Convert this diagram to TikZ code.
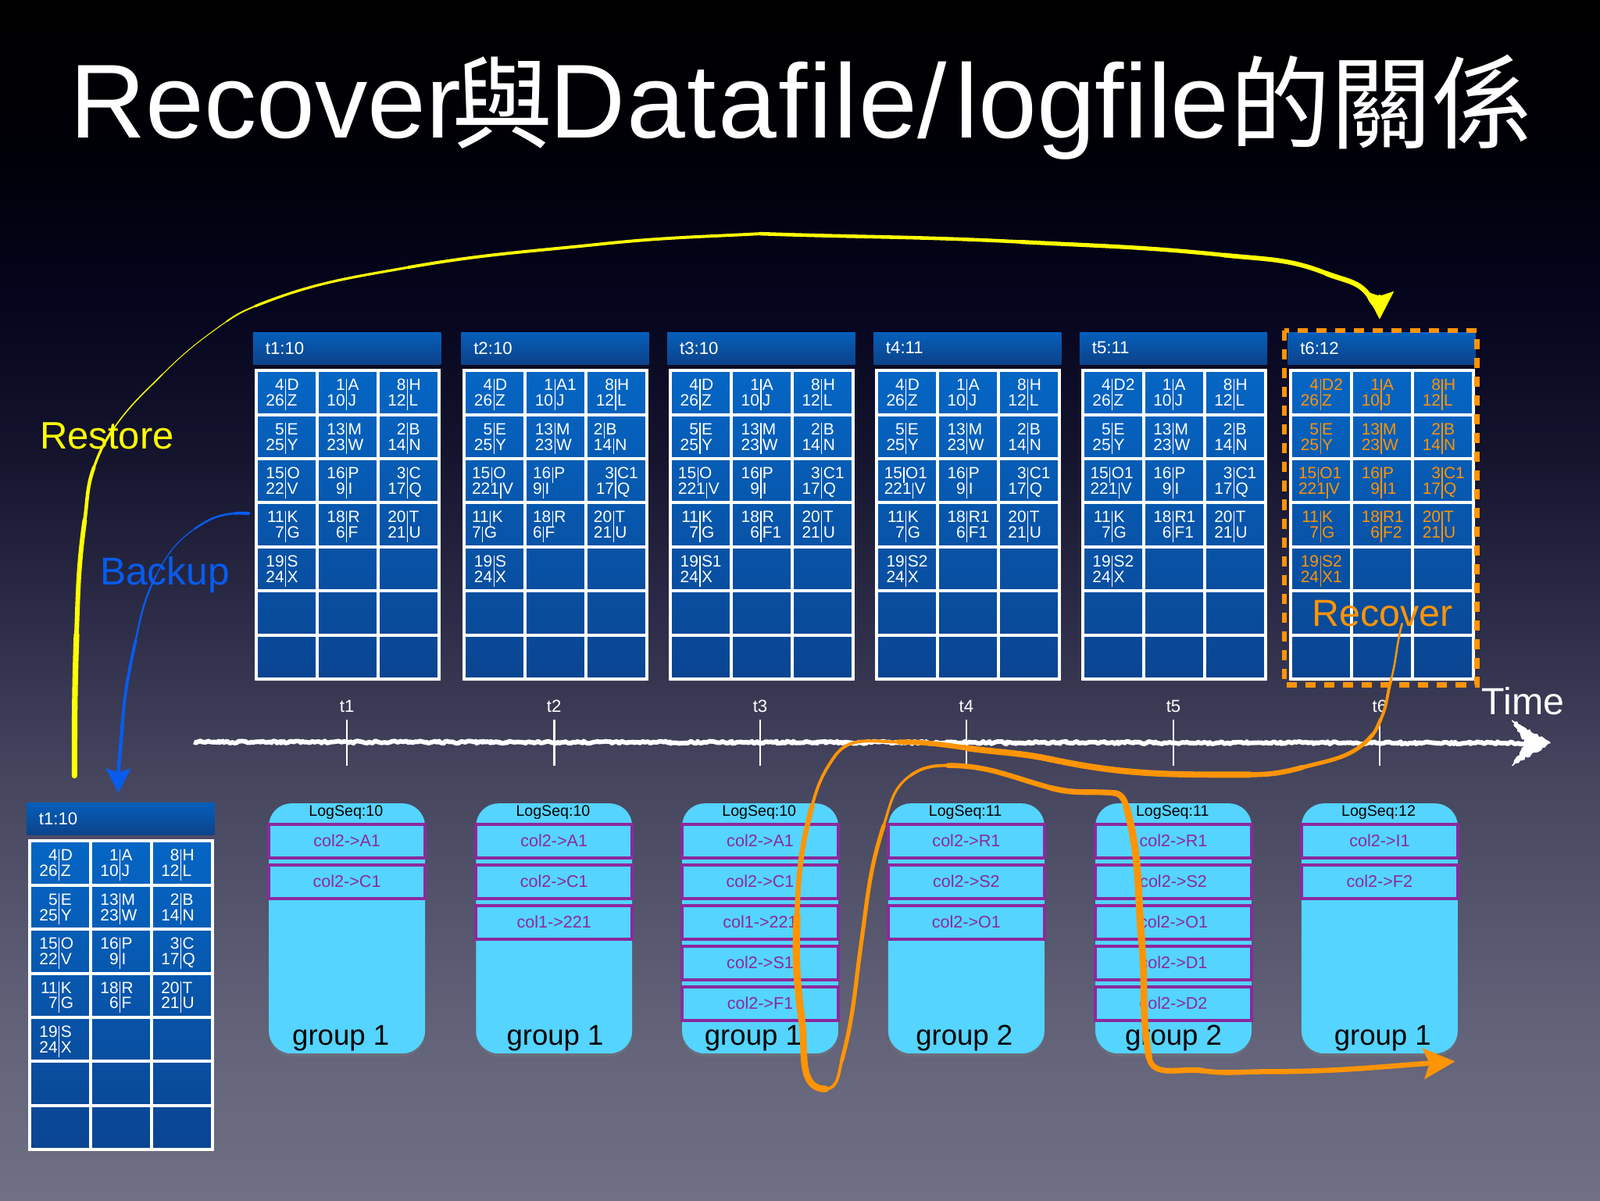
\documentclass[tikz,border=0pt]{standalone}
\usepackage{fontspec}
\setmainfont{Liberation Sans}
\newfontfamily\cjkfont[Scale=0.96]{Noto Sans CJK TC}
\usepackage{tikz}
\usetikzlibrary{arrows.meta}
\usetikzlibrary{calc, shadows}
\usetikzlibrary{decorations.pathmorphing}
\definecolor{restoreyellow}{rgb}{1,1,0}
\definecolor{backupblue}{rgb}{0.03,0.36,0.93}
\definecolor{recoverorange}{rgb}{1,0.58,0.02}
\definecolor{logcyan}{rgb}{0.33,0.83,1}
\definecolor{logpurple}{rgb}{0.55,0.16,0.61}
\definecolor{blocktop}{rgb}{0.02,0.40,0.77}
\definecolor{blockbottom}{rgb}{0.04,0.27,0.57}
\definecolor{headtop}{rgb}{0.02,0.37,0.73}
\definecolor{headbottom}{rgb}{0.05,0.26,0.54}
\pgfdeclareverticalshading{slidebg}{100bp}{
  rgb(0bp)=(0.44,0.44,0.52);
  rgb(25bp)=(0.44,0.44,0.52);
  rgb(32.5bp)=(0.38,0.38,0.47);
  rgb(42.7bp)=(0.27,0.27,0.37);
  rgb(49.5bp)=(0.17,0.17,0.28);
  rgb(55.9bp)=(0.08,0.08,0.18);
  rgb(62.2bp)=(0.02,0.02,0.12);
  rgb(68.6bp)=(0,0,0.03);
  rgb(75bp)=(0,0,0);
  rgb(100bp)=(0,0,0)}
\tikzset{
  headbox/.style={rectangle, anchor=north west, minimum width=184pt, minimum height=31pt,
    inner sep=0pt, outer sep=0pt, top color=headtop, bottom color=headbottom},
  gridbox/.style={rectangle, anchor=north west, draw=white, line width=3pt, minimum width=179pt,
    minimum height=302.5pt, inner sep=0pt, outer sep=0pt, top color=blocktop, bottom color=blockbottom,
    drop shadow={shadow xshift=0pt, shadow yshift=-2pt, opacity=0.3}},
  gridline/.style={draw=white, line width=3pt},
  cellpair/.style={inner sep=0pt, align=center, font=\fontsize{16}{15.3}\selectfont},
  headlabel/.style={anchor=west, text=white, inner sep=0pt, font=\fontsize{17}{17}\selectfont},
  logpanel/.style={rectangle, rounded corners=22pt, minimum width=153pt, minimum height=245pt,
    anchor=north, inner sep=0pt, fill=logcyan,
    drop shadow={shadow xshift=0pt, shadow yshift=-3pt, opacity=0.3}},
  logrow/.style={rectangle, draw=logpurple, line width=3pt, minimum width=153pt, minimum height=33pt,
    inner sep=0pt, text=logpurple, font=\fontsize{16.5}{17}\selectfont},
  logseq/.style={text=black, inner sep=0pt, font=\fontsize{15}{15}\selectfont},
  grouplabel/.style={anchor=base, text=black, inner sep=0pt, font=\fontsize{28}{28}\selectfont},
  biglabel/.style={anchor=base west, inner sep=0pt, font=\fontsize{37}{37}\selectfont},
  ticklabel/.style={text=white, inner sep=0pt, font=\fontsize{17}{17}\selectfont},
  chalk/.style={draw=white, line join=round, decorate, decoration={random steps, segment length=2pt, amplitude=1.2pt}},
  restoreline/.style={draw=restoreyellow, line cap=round},
  backupline/.style={draw=backupblue, line cap=round},
  recoverline/.style={draw=recoverorange, line cap=round}
}
% one data cell: number | letter, bar in the middle or text flush left
\newcommand{\barsep}{\hspace{1.1pt}\rule[-4pt]{0.9pt}{15.3pt}\hspace{1.1pt}}
\newcommand{\kv}[2]{\makebox[20pt][r]{#1}\barsep\makebox[20pt][l]{#2}}
\newcommand{\kl}[2]{\makebox[43pt][l]{#1\barsep #2}}
% #1 name, #2 x, #3 y, #4 header text, #5 text colour, #6 cells
\newcommand{\tablepanel}[6]{
  \node[headbox] (head#1) at (#2,#3) {};
  \node[headlabel] (label#1) at (#2+12,#3+15) {#4};
  \node[gridbox] (grid#1) at (#2+3,#3+37) {};
  \foreach \c in {1,2}
    \draw[gridline] ($(grid#1.north west)+(\c*59.67,0)$) -- ($(grid#1.south west)+(\c*59.67,0)$);
  \foreach \r in {1,...,6}
    \draw[gridline] ($(grid#1.north west)+(0,\r*43.2)$) -- ($(grid#1.north east)+(0,\r*43.2)$);
  \foreach [count=\i] \lineA/\lineB in #6 {
    \pgfmathtruncatemacro{\col}{mod(\i-1,3)}
    \pgfmathtruncatemacro{\row}{(\i-1)/3}
    \node[cellpair, text=#5] (cell#1-\i) at (#2+3+29+59.67*\col,#3+37+23.5+43.2*\row) {\lineA\\\lineB};
  }
}
% #1 name, #2 x centre, #3 sequence text, #4 x of group label, #5 group text, #6 rows
\newcommand{\logpanel}[6]{
  \node[logpanel] (log#1) at (#2,787) {};
  \node[logseq] (seq#1) at (#2-1,796) {#3};
  \node[grouplabel] (group#1) at (#4,1024) {#5};
  \foreach [count=\i] \rowtext in {#6} {
    \node[logrow] (row#1-\i) at (#2,824+39.8*\i-39.8) {\rowtext};
  }
}
\begin{document}
\begin{tikzpicture}[x=1pt,y=-1pt]
  \useasboundingbox (0,0) rectangle (1568,1176);
  \shade[shading=slidebg] (0,0) rectangle (1568,1176);

  % Titel
  \node[anchor=base west, text=white, inner sep=0pt, font=\fontsize{103}{103}\selectfont] (title) at (68,135)
    {Recover\hspace{-9pt}\raisebox{-3pt}{\cjkfont 與}\hspace{-3pt}{\addfontfeature{LetterSpace=1.6}Datafile}/\hspace{8pt}logfile\raisebox{-3pt}{\cjkfont 的關係}};

  % Datafiles zu den Zeitpunkten
  \tablepanel{one}{248}{326}{t1:10}{white}{{
    \kv{4}{D}/\kv{26}{Z}, \kv{1}{A}/\kv{10}{J}, \kv{8}{H}/\kv{12}{L},
    \kv{5}{E}/\kv{25}{Y}, \kv{13}{M}/\kv{23}{W}, \kv{2}{B}/\kv{14}{N},
    \kv{15}{O}/\kv{22}{V}, \kv{16}{P}/\kv{9}{I}, \kv{3}{C}/\kv{17}{Q},
    \kv{11}{K}/\kv{7}{G}, \kv{18}{R}/\kv{6}{F}, \kv{20}{T}/\kv{21}{U},
    \kv{19}{S}/\kv{24}{X}}}
  \tablepanel{two}{452}{326}{t2:10}{white}{{
    \kv{4}{D}/\kv{26}{Z}, \kv{1}{A1}/\kv{10}{J}, \kv{8}{H}/\kv{12}{L},
    \kv{5}{E}/\kv{25}{Y}, \kv{13}{M}/\kv{23}{W}, \kl{2}{B}/\kl{14}{N},
    \kl{15}{O}/\kl{221}{V}, \kl{16}{P}/\kl{9}{I}, \kv{3}{C1}/\kv{17}{Q},
    \kl{11}{K}/\kl{7}{G}, \kl{18}{R}/\kl{6}{F}, \kl{20}{T}/\kl{21}{U},
    \kv{19}{S}/\kv{24}{X}}}
  \tablepanel{three}{654}{326}{t3:10}{white}{{
    \kv{4}{D}/\kv{26}{Z}, \kv{1}{A}/\kv{10}{J}, \kv{8}{H}/\kv{12}{L},
    \kv{5}{E}/\kv{25}{Y}, \kv{13}{M}/\kv{23}{W}, \kv{2}{B}/\kv{14}{N},
    \kl{15}{O}/\kl{221}{V}, \kv{16}{P}/\kv{9}{I}, \kv{3}{C1}/\kv{17}{Q},
    \kv{11}{K}/\kv{7}{G}, \kv{18}{R}/\kv{6}{F1}, \kv{20}{T}/\kv{21}{U},
    \kv{19}{S1}/\kv{24}{X}}}
  \tablepanel{four}{856}{326}{t4:11}{white}{{
    \kv{4}{D}/\kv{26}{Z}, \kv{1}{A}/\kv{10}{J}, \kv{8}{H}/\kv{12}{L},
    \kv{5}{E}/\kv{25}{Y}, \kv{13}{M}/\kv{23}{W}, \kv{2}{B}/\kv{14}{N},
    \kl{15}{O1}/\kl{221}{V}, \kv{16}{P}/\kv{9}{I}, \kv{3}{C1}/\kv{17}{Q},
    \kv{11}{K}/\kv{7}{G}, \kv{18}{R1}/\kv{6}{F1}, \kv{20}{T}/\kv{21}{U},
    \kv{19}{S2}/\kv{24}{X}}}
  \tablepanel{five}{1058}{326}{t5:11}{white}{{
    \kv{4}{D2}/\kv{26}{Z}, \kv{1}{A}/\kv{10}{J}, \kv{8}{H}/\kv{12}{L},
    \kv{5}{E}/\kv{25}{Y}, \kv{13}{M}/\kv{23}{W}, \kv{2}{B}/\kv{14}{N},
    \kl{15}{O1}/\kl{221}{V}, \kv{16}{P}/\kv{9}{I}, \kv{3}{C1}/\kv{17}{Q},
    \kv{11}{K}/\kv{7}{G}, \kv{18}{R1}/\kv{6}{F1}, \kv{20}{T}/\kv{21}{U},
    \kv{19}{S2}/\kv{24}{X}}}
  \tablepanel{six}{1262}{326}{t6:12}{recoverorange}{{
    \kv{4}{D2}/\kv{26}{Z}, \kv{1}{A}/\kv{10}{J}, \kv{8}{H}/\kv{12}{L},
    \kv{5}{E}/\kv{25}{Y}, \kv{13}{M}/\kv{23}{W}, \kv{2}{B}/\kv{14}{N},
    \kl{15}{O1}/\kl{221}{V}, \kv{16}{P}/\kv{9}{I1}, \kv{3}{C1}/\kv{17}{Q},
    \kv{11}{K}/\kv{7}{G}, \kv{18}{R1}/\kv{6}{F2}, \kv{20}{T}/\kv{21}{U},
    \kv{19}{S2}/\kv{24}{X1}}}
  \draw[draw=recoverorange, line width=5pt, dash pattern=on 10pt off 8.4pt]
    (1258.5,324) rectangle (1447.5,671);
  \node[biglabel, text=recoverorange] (recover) at (1286,614) {Recover};

  % Backup
  \tablepanel{backup}{26}{787}{t1:10}{white}{{
    \kv{4}{D}/\kv{26}{Z}, \kv{1}{A}/\kv{10}{J}, \kv{8}{H}/\kv{12}{L},
    \kv{5}{E}/\kv{25}{Y}, \kv{13}{M}/\kv{23}{W}, \kv{2}{B}/\kv{14}{N},
    \kv{15}{O}/\kv{22}{V}, \kv{16}{P}/\kv{9}{I}, \kv{3}{C}/\kv{17}{Q},
    \kv{11}{K}/\kv{7}{G}, \kv{18}{R}/\kv{6}{F}, \kv{20}{T}/\kv{21}{U},
    \kv{19}{S}/\kv{24}{X}}}

  % Logfiles
  \logpanel{a}{340}{LogSeq:10}{334}{group 1}{col2->A1,col2->C1}
  \logpanel{b}{543}{LogSeq:10}{544}{group 1}{col2->A1,col2->C1,col1->221}
  \logpanel{c}{745}{LogSeq:10}{738}{group 1}{col2->A1,col2->C1,col1->221,col2->S1,col2->F1}
  \logpanel{d}{947}{LogSeq:11}{945}{group 2}{col2->R1,col2->S2,col2->O1}
  \logpanel{e}{1150}{LogSeq:11}{1150}{group 2}{col2->R1,col2->S2,col2->O1,col2->D1,col2->D2}
  \logpanel{f}{1352}{LogSeq:12}{1355}{group 1}{col2->I1,col2->F2}

  % Zeitachse
  \coordinate (timeStart) at (190,727);
  \coordinate (timeEnd) at (1500,728);
  \draw[chalk, line width=4.5pt] (timeStart) -- (timeEnd);
  \fill[white, chalk, line width=1pt] (1519,728) -- (1482,706) -- (1496,728) -- (1482,750) -- cycle;
  \foreach \i/\x in {1/340,2/543,3/745,4/947,5/1150,6/1352} {
    \draw[draw=white, line width=2pt] (\x,705) -- (\x,750);
    \node[ticklabel] (tick\i) at (\x,692) {t\i};
  }
  \node[biglabel, text=white] (time) at (1452,700) {Time};

  % Restore
  \node[biglabel, text=restoreyellow, font=\fontsize{37.5}{38}\selectfont] (restore) at (39,440) {Restore};
  \foreach \n/\p in {y1/{73,760},y2/{75,622},y3/{83,510},y4/{92,458},y5/{112,419},y6/{159,367},y7/{222,315},
                     y8/{250,300},y9/{400,262},ym/{590,239},y10/{745,229},y11/{1000,237},y12/{1200,250},y13/{1300,268},
                     y14/{1343,292},y15/{1352,313}}
    \coordinate (\n) at (\p);
  \foreach \a/\b/\oa/\ib/\w in {y1/y2/90/268/5.5, y2/y3/88/262/4.5, y3/y4/82/250/3.5, y4/y5/70/235/2.5,
                                y5/y6/55/225/1.2, y6/y7/45/215/0.8, y7/y8/35/202/1.5, y8/y9/22/190/2.5,
                                y9/ym/10/186/3, ym/y10/6/183/3, y10/y11/-2/177/3.5, y11/y12/-3/174/4,
                                y12/y13/-6/158/4.5, y13/y14/-22/120/5}
    \draw[restoreline, line width=\w pt] (\a) to[out=\oa,in=\ib] (\b);
  \draw[restoreline, line width=5.5pt, -{Stealth[length=27pt,width=27pt,inset=4pt]}] (y14) to[out=-60,in=90] (y15);

  % Backup
  \node[biglabel, text=backupblue, font=\fontsize{38}{38}\selectfont] (backup) at (98,573) {Backup};
  \foreach \n/\p in {b1/{244,503},b2/{230,503},b3/{191,518},b4/{153,564},b5/{133,627},b6/{120,709},b7/{116,777}}
    \coordinate (\n) at (\p);
  \foreach \a/\b/\oa/\ib/\w in {b1/b2/180/5/3, b2/b3/185/35/2, b3/b4/215/63/1, b4/b5/243/78/1.8, b5/b6/258/86/3}
    \draw[backupline, line width=\w pt] (\a) to[out=\oa,in=\ib] (\b);
  \draw[backupline, line width=3.5pt, -{Stealth[length=24pt,width=24pt,inset=4pt]}] (b6) to[out=266,in=90] (b7);

  % Recover
  \foreach \n/\p in {o1/{1374,611},o2/{1363,667},o3/{1353,705},o4/{1345,720},o5/{1276,752},o6/{1225,759},
                     o7/{1030,744},o8/{948,733},o9/{881,727},o10/{818,741},o11/{796,789},o12/{781,898},
                     o13/{786,1001},o14/{809,1067},o15/{825,1039},o16/{844,924},o17/{866,809},o18/{892,760},
                     o19/{929,750},o20/{1030,772},o21/{1092,777},o22/{1104,791},o23/{1119,924},o24/{1126,1036},
                     o25/{1178,1049},o26/{1240,1050},o27/{1426,1040}}
    \coordinate (\n) at (\p);
  \foreach \a/\b/\oa/\ib/\w in {o1/o2/-105/75/2, o2/o3/-105/65/3, o3/o4/-115/50/3.5, o4/o5/-130/15/4, o5/o6/-165/0/5,
                                o6/o7/180/-12/6, o7/o8/168/-8/6, o8/o9/172/0/5, o9/o10/180/55/3, o10/o11/235/75/3,
                                o11/o12/255/88/5, o12/o13/268/98/7, o13/o14/278/180/6.5, o14/o15/0/255/3,
                                o15/o16/75/262/4, o16/o17/82/252/4, o17/o18/72/215/2.5, o18/o19/35/180/3,
                                o19/o20/0/165/5, o20/o21/-15/175/5.5, o21/o22/-5/105/6, o22/o23/-75/95/7,
                                o23/o24/-85/100/6.5, o24/o25/-80/172/5.5, o25/o26/-8/180/5}
    \draw[recoverline, line width=\w pt] (\a) to[out=\oa,in=\ib] (\b);
  \draw[recoverline, line width=5pt, -{Stealth[length=31pt,width=30pt,inset=6pt]}] (o26) to[out=0,in=184] (o27);
\end{tikzpicture}
\end{document}
